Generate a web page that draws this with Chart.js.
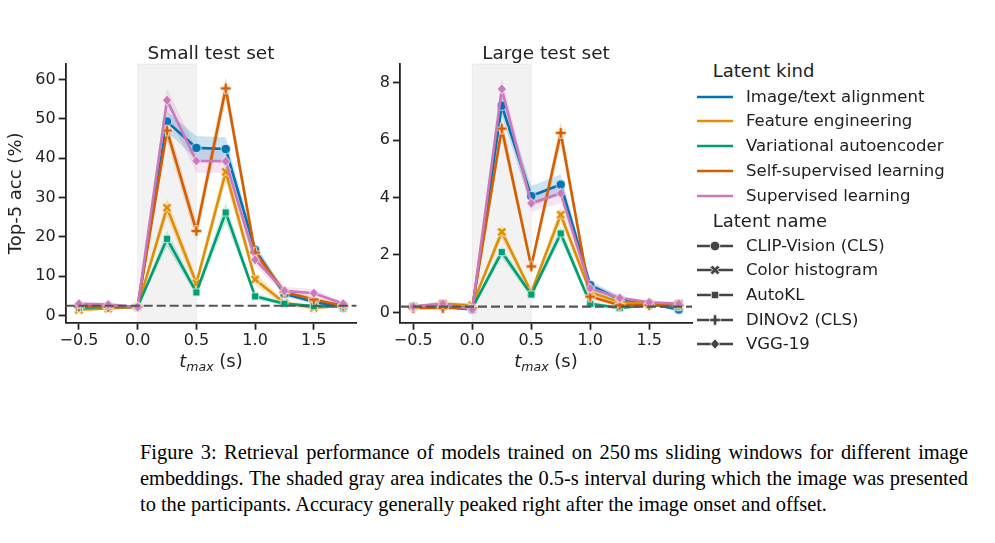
<!DOCTYPE html>
<html>
<head>
<meta charset="utf-8">
<script src="https://cdn.jsdelivr.net/npm/chart.js@4.4.1/dist/chart.umd.min.js"></script>
<style>
  body { margin: 0; background: #fff; width: 995px; height: 543px; overflow: hidden; position: relative;
         font-family: "DejaVu Sans", sans-serif; color: #222; }
  canvas { position: absolute; top: 0; }
  .lbl { position: absolute; white-space: nowrap; transform: translate(-50%, -50%); }
  .ttl { font-size: 18.5px; }
  .xl { font-size: 18px; }
  .xl sub { font-size: 12.5px; vertical-align: -4px; }
  .leg { position: absolute; white-space: nowrap; font-size: 16.5px; line-height: 20px; }
  .legh { font-size: 18px; }
  .cap { position: absolute; left: 140px; width: 828px; font-family: "Liberation Serif", "Times New Roman", serif;
         font-size: 20.4px; line-height: 26px; white-space: nowrap; color: #000; }
  .just { text-align: justify; text-align-last: justify; }
</style>
</head>
<body>
<canvas id="small" width="370" height="390" style="left:0"></canvas>
<canvas id="large" width="370" height="390" style="left:340px"></canvas>

<div class="lbl ttl" style="left:211px;top:52px">Small test set</div>
<div class="lbl ttl" style="left:546px;top:52px">Large test set</div>
<div class="lbl xl" style="left:211px;top:362px"><i>t</i><sub><i>max</i></sub> (s)</div>
<div class="lbl xl" style="left:546px;top:362px"><i>t</i><sub><i>max</i></sub> (s)</div>

<div id="legend"></div>

<div class="cap just" style="top:439px">Figure 3: Retrieval performance of models trained on 250&#8201;ms sliding windows for different image</div>
<div class="cap just" style="top:465px">embeddings. The shaded gray area indicates the 0.5-s interval during which the image was presented</div>
<div class="cap" style="top:491px">to the participants. Accuracy generally peaked right after the image onset and offset.</div>

<script>
// time axis (s)
const tmax = [-0.5, -0.25, 0, 0.25, 0.5, 0.75, 1.0, 1.25, 1.5, 1.75];

const kindNames = ['Image/text alignment', 'Feature engineering', 'Variational autoencoder',
                   'Self-supervised learning', 'Supervised learning'];
const latentNames = ['CLIP-Vision (CLS)', 'Color histogram', 'AutoKL', 'DINOv2 (CLS)', 'VGG-19'];
const colors = ['#0173b2', '#de8f05', '#029e73', '#d55e00', '#cc78bc'];
const markers = ['circle', 'x', 'square', 'plus', 'diamond'];

// Small test set, top-5 acc (%)
const smallClip      = [2.3, 2.3, 2.2, 49.3, 42.6, 42.3, 16.7, 5.5, 3.5, 2.0];
const smallColorHist = [1.5, 1.8, 2.2, 27.4, 8.2, 36.5, 9.2, 3.2, 2.0, 2.5];
const smallAutoKL    = [2.0, 2.2, 2.2, 19.5, 5.9, 26.2, 4.9, 3.0, 2.4, 2.3];
const smallDino      = [2.3, 2.2, 2.2, 47.0, 21.5, 57.7, 16.0, 6.0, 4.1, 2.5];
const smallVgg       = [3.0, 2.8, 2.2, 54.7, 39.3, 39.2, 14.2, 6.3, 5.7, 3.0];
// confidence band half widths
const smallClipCi      = [0.3, 0.3, 0.3, 2.5, 3.0, 3.0, 1.5, 0.8, 0.5, 0.3];
const smallColorHistCi = [0.3, 0.3, 0.3, 2.5, 1.5, 2.5, 1.5, 0.8, 0.5, 0.3];
const smallAutoKLCi    = [0.3, 0.3, 0.3, 2.0, 1.0, 2.5, 0.8, 0.5, 0.3, 0.3];
const smallDinoCi      = [0.3, 0.3, 0.3, 2.5, 2.5, 3.0, 1.5, 0.8, 0.6, 0.3];
const smallVggCi       = [0.5, 0.5, 0.3, 3.0, 3.0, 3.0, 1.5, 1.0, 1.0, 0.5];

// Large test set, top-5 acc (%)
const largeClip      = [0.2, 0.2, 0.1, 7.2, 4.05, 4.45, 0.95, 0.45, 0.3, 0.1];
const largeColorHist = [0.2, 0.3, 0.25, 2.8, 0.7, 3.4, 0.7, 0.35, 0.3, 0.3];
const largeAutoKL    = [0.2, 0.2, 0.15, 2.1, 0.62, 2.75, 0.3, 0.15, 0.25, 0.2];
const largeDino      = [0.15, 0.15, 0.15, 6.4, 1.6, 6.25, 0.55, 0.25, 0.25, 0.25];
const largeVgg       = [0.2, 0.3, 0.1, 7.78, 3.8, 4.15, 0.84, 0.5, 0.35, 0.3];
const largeClipCi      = [0.05, 0.05, 0.05, 0.35, 0.35, 0.35, 0.15, 0.1, 0.05, 0.05];
const largeColorHistCi = [0.05, 0.1, 0.05, 0.25, 0.1, 0.3, 0.1, 0.05, 0.05, 0.1];
const largeAutoKLCi    = [0.05, 0.05, 0.05, 0.2, 0.1, 0.25, 0.1, 0.05, 0.05, 0.05];
const largeDinoCi      = [0.05, 0.05, 0.05, 0.35, 0.2, 0.4, 0.1, 0.05, 0.05, 0.05];
const largeVggCi       = [0.05, 0.1, 0.05, 0.4, 0.3, 0.35, 0.15, 0.1, 0.05, 0.05];

const smallChance = 2.5;
const largeChance = 0.2;
const stimulus = [0, 0.5];

const xTicks = [-0.5, 0, 0.5, 1.0, 1.5];
const xTickLabels = ['\u22120.5', '0.0', '0.5', '1.0', '1.5'];
const smallYTicks = [0, 10, 20, 30, 40, 50, 60];
const largeYTicks = [0, 2, 4, 6, 8];

const ink = '#222';

function rgba(hex, a) {
  const n = parseInt(hex.slice(1), 16);
  return `rgba(${n >> 16},${(n >> 8) & 255},${n & 255},${a})`;
}

// seaborn-like filled markers with a white edge
function makeMarker(kind, fill, edge) {
  const c = document.createElement('canvas');
  c.width = 16; c.height = 16;
  const g = c.getContext('2d');
  g.translate(8, 8);
  g.beginPath();
  if (kind === 'circle') {
    g.arc(0, 0, 4.8, 0, Math.PI * 2);
  } else if (kind === 'square') {
    g.rect(-3.7, -3.7, 7.4, 7.4);
  } else if (kind === 'diamond') {
    g.moveTo(0, -5.2); g.lineTo(4.6, 0); g.lineTo(0, 5.2); g.lineTo(-4.6, 0); g.closePath();
  } else {
    if (kind === 'x') g.rotate(Math.PI / 4);
    const a = 5.3, t = 1.7;
    const pts = [[-t,-a],[t,-a],[t,-t],[a,-t],[a,t],[t,t],[t,a],[-t,a],[-t,t],[-a,t],[-a,-t],[-t,-t]];
    pts.forEach((p, i) => i ? g.lineTo(p[0], p[1]) : g.moveTo(p[0], p[1]));
    g.closePath();
  }
  g.fillStyle = fill; g.fill();
  g.strokeStyle = edge; g.lineWidth = 0.8; g.stroke();
  return c;
}

const overlay = {
  id: 'overlay',
  beforeDatasetsDraw(chart, args, opts) {
    const { ctx, chartArea, scales } = chart;
    const x0 = scales.x.getPixelForValue(opts.stim[0]);
    const x1 = scales.x.getPixelForValue(opts.stim[1]);
    ctx.save();
    ctx.fillStyle = 'rgba(0,0,0,0.05)';
    ctx.fillRect(x0, chartArea.top, x1 - x0, chartArea.bottom - chartArea.top);
    ctx.strokeStyle = 'rgba(0,0,0,0.06)';
    ctx.lineWidth = 1;
    ctx.strokeRect(x0, chartArea.top, x1 - x0, chartArea.bottom - chartArea.top);
    ctx.restore();
  },
  afterDatasetsDraw(chart, args, opts) {
    const { ctx, chartArea, scales } = chart;
    const y = scales.y.getPixelForValue(opts.chance);
    ctx.save();
    ctx.strokeStyle = '#555';
    ctx.lineWidth = 2.2;
    ctx.setLineDash([9, 4]);
    ctx.beginPath();
    ctx.moveTo(chartArea.left, y);
    ctx.lineTo(chartArea.right, y);
    ctx.stroke();
    ctx.restore();
  }
};

function buildChart(id, series, cis, cfg) {
  const datasets = [];
  series.forEach((vals, k) => {
    datasets.push({
      data: tmax.map((x, i) => ({ x, y: vals[i] + cis[k][i] })),
      borderWidth: 0, pointRadius: 0, fill: '+1',
      backgroundColor: rgba(colors[k], 0.2), order: 20
    });
    datasets.push({
      data: tmax.map((x, i) => ({ x, y: vals[i] - cis[k][i] })),
      borderWidth: 0, pointRadius: 0, fill: false, order: 20
    });
  });
  series.forEach((vals, k) => {
    datasets.push({
      label: latentNames[k],
      data: tmax.map((x, i) => ({ x, y: vals[i] })),
      borderColor: colors[k], borderWidth: 2.6, fill: false,
      pointStyle: makeMarker(markers[k], colors[k], '#fff'), pointRadius: 4,
      order: 5 - k
    });
  });

  const tickFont = { family: 'DejaVu Sans', size: 16 };
  const grid = { drawOnChartArea: false, drawTicks: true, tickLength: 7, tickColor: ink, tickWidth: 1.8 };
  const border = { color: ink, width: 1.8 };

  return new Chart(document.getElementById(id), {
    type: 'line',
    data: { datasets },
    plugins: [overlay],
    options: {
      responsive: false,
      animation: false,
      layout: { padding: { top: 64, right: cfg.padRight, left: 0, bottom: 0 } },
      plugins: {
        legend: { display: false },
        tooltip: { enabled: false },
        overlay: { chance: cfg.chance, stim: stimulus }
      },
      scales: {
        x: {
          type: 'linear', min: -0.6125, max: 1.8625,
          afterBuildTicks: s => { s.ticks = xTicks.map(v => ({ value: v })); },
          afterFit: s => { s.height = 67.3; },
          ticks: { callback: (v, i) => xTickLabels[i], font: tickFont, color: ink, padding: 2,
                   maxRotation: 0, autoSkip: false },
          grid, border
        },
        y: {
          type: 'linear', min: cfg.yMin, max: cfg.yMax,
          afterBuildTicks: s => { s.ticks = cfg.yTicks.map(v => ({ value: v })); },
          afterFit: s => { s.width = cfg.yWidth; },
          ticks: { callback: (v, i) => String(cfg.yTicks[i]), font: tickFont, color: ink, padding: 3 },
          title: { display: !!cfg.yTitle, text: cfg.yTitle, color: ink,
                   font: { family: 'DejaVu Sans', size: 18 }, padding: { top: 6, bottom: 0 } },
          grid, border
        }
      }
    }
  });
}

buildChart('small',
  [smallClip, smallColorHist, smallAutoKL, smallDino, smallVgg],
  [smallClipCi, smallColorHistCi, smallAutoKLCi, smallDinoCi, smallVggCi],
  { yMin: -1.8, yMax: 63.9, yTicks: smallYTicks, yWidth: 65.7, padRight: 13.6,
    chance: smallChance, yTitle: 'Top-5 acc (%)' });

buildChart('large',
  [largeClip, largeColorHist, largeAutoKL, largeDino, largeVgg],
  [largeClipCi, largeColorHistCi, largeAutoKLCi, largeDinoCi, largeVggCi],
  { yMin: -0.36, yMax: 8.65, yTicks: largeYTicks, yWidth: 60, padRight: 18,
    chance: largeChance, yTitle: '' });

// legend
const legend = document.getElementById('legend');
function legendRow(cy, text, isHeader, color, marker) {
  const row = document.createElement('div');
  row.className = 'leg' + (isHeader ? ' legh' : '');
  row.style.top = (cy - 10) + 'px';
  row.style.left = isHeader ? '712.7px' : '746px';
  row.textContent = text;
  legend.appendChild(row);
  if (isHeader) return;
  const c = document.createElement('canvas');
  c.width = 40; c.height = 16;
  c.style.left = '695px'; c.style.top = (cy - 8) + 'px';
  const g = c.getContext('2d');
  g.strokeStyle = color; g.lineWidth = 2.5;
  g.beginPath(); g.moveTo(2, 8); g.lineTo(38, 8); g.stroke();
  if (marker) g.drawImage(makeMarker(marker, color, '#fff'), 12, 0);
  legend.appendChild(c);
}
legendRow(71, 'Latent kind', true);
[96.7, 121.4, 146.1, 170.8, 195.5].forEach((cy, k) => legendRow(cy, kindNames[k], false, colors[k]));
legendRow(220.7, 'Latent name', true);
[245.6, 270.3, 295, 319.7, 344.4].forEach((cy, k) => legendRow(cy, latentNames[k], false, '#444', markers[k]));
</script>
</body>
</html>
